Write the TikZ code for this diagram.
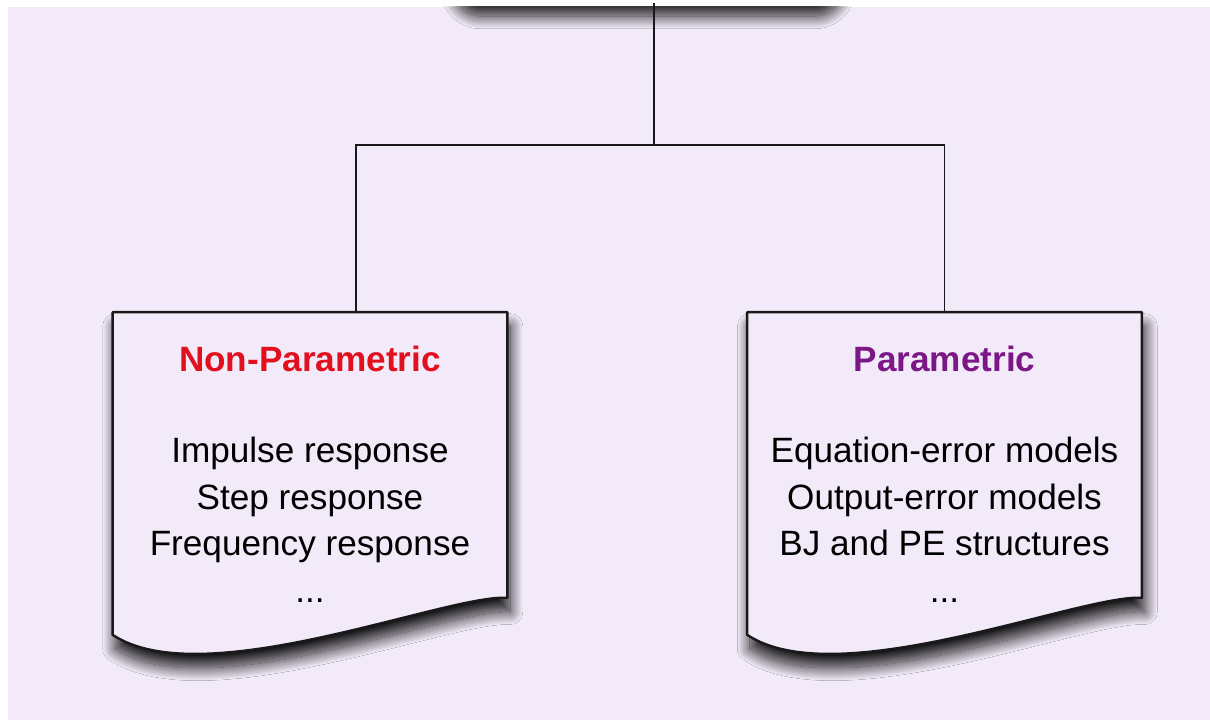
\documentclass[tikz,border=0pt]{standalone}
\usepackage{fontspec}
\setmainfont{Liberation Sans}
\usetikzlibrary{shadows.blur}
\definecolor{paper}{HTML}{F2EAF8}
\definecolor{nonparred}{HTML}{E2101E}
\definecolor{parpurple}{HTML}{7B1787}

\begin{document}
\begin{tikzpicture}[
    x=0.025cm, y=-0.025cm,
    every node/.style={font=\fontsize{25}{33}\selectfont, inner sep=0pt},
    heading/.style={font=\fontsize{25}{33}\selectfont\bfseries, anchor=base},
    items/.style={align=center, anchor=north},
    slot/.style={minimum width=9.85cm, minimum height=8.475cm},
    docbox/.style={draw=black!90, line width=1.7pt, fill=paper, line join=round,
        blur shadow={shadow xshift=2pt, shadow yshift=-10pt, shadow blur radius=9pt,
            shadow blur steps=30, shadow opacity=90}},
    link/.style={draw=black!90, line width=1.4pt}
]
\useasboundingbox (0,0) rectangle (1210,722);
\fill[white] (0,0) rectangle (1210,722);
\fill[paper] (8,7) rectangle (1210,720);

% top box, cut off by the frame
\begin{scope}
    \clip (8,7) rectangle (1210,720);
    \node[docbox, rounded corners=20pt, minimum width=9.75cm, minimum height=2.15cm] (root) at (645,-41) {};
\end{scope}

\node[slot] (nonpar) at (310,482) {};
\node[slot] (par) at (944.5,482) {};

\coordinate (fork) at (654,145);
\draw[link] (root.south -| fork) -- (fork);
\draw[link] (fork) -| ([shift={(46,0)}]nonpar.north);
\draw[link] (fork) -| (par.north);

% document shapes
\draw[docbox] (nonpar.north west) -- (nonpar.north east) -- ([shift={(0,-54)}]nonpar.south east)
    .. controls ([shift={(-60,-58)}]nonpar.south east) and ([shift={(90,43)}]nonpar.south west)
    .. ([shift={(0,-17)}]nonpar.south west) -- cycle;
\draw[docbox] (par.north west) -- (par.north east) -- ([shift={(0,-54)}]par.south east)
    .. controls ([shift={(-60,-58)}]par.south east) and ([shift={(90,43)}]par.south west)
    .. ([shift={(0,-17)}]par.south west) -- cycle;

\node[heading, text=nonparred] (nonpar-title) at ([shift={(0,59)}]nonpar.north) {Non-Parametric};
\node[items] (nonpar-list) at ([shift={(0,125)}]nonpar.north)
    {Impulse response\\ Step response\\ Frequency response\\ ...};

\node[heading, text=parpurple] (par-title) at ([shift={(0,59)}]par.north) {Parametric};
\node[items] (par-list) at ([shift={(0,125)}]par.north)
    {Equation-error models\\ Output-error models\\ BJ and PE structures\\ ...};
\end{tikzpicture}
\end{document}
